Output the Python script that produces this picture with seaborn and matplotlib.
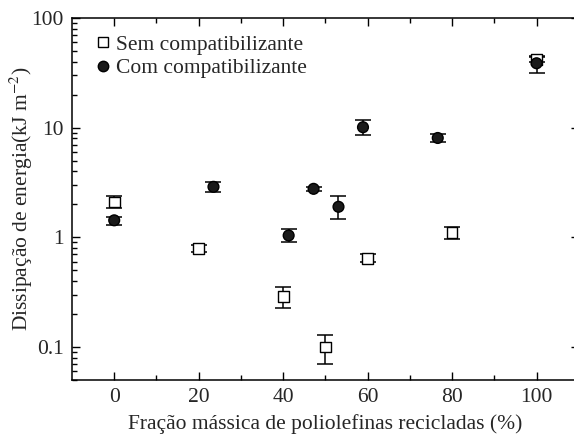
import pandas as pd
import numpy as np
import matplotlib
matplotlib.use("Agg")
import matplotlib.pyplot as plt
import seaborn as sns
from matplotlib.ticker import LogLocator, FixedLocator, NullFormatter

# Sem compatibilizante
x_sem = [0, 20, 40, 50, 60, 80, 100]
y_sem = [2.1, 0.79, 0.29, 0.10, 0.64, 1.10, 42]
lo_sem = [1.86, 0.73, 0.228, 0.07, 0.59, 0.96, 40]
hi_sem = [2.36, 0.86, 0.353, 0.13, 0.70, 1.24, 45]

# Com compatibilizante
x_com = [0, 23.5, 41.3, 47.2, 53.1, 58.9, 76.6, 100]
y_com = [1.43, 2.89, 1.04, 2.77, 1.90, 10.1, 8.06, 38.7]
lo_com = [1.30, 2.58, 0.906, 2.65, 1.46, 8.5, 7.35, 31.4]
hi_com = [1.53, 3.2, 1.18, 2.9, 2.37, 11.8, 8.8, 44.5]

sns.set_style("ticks")
plt.rcParams["font.family"] = ["Liberation Serif", "DejaVu Serif"]
plt.rcParams["mathtext.fontset"] = "stix"

df = pd.concat([
    pd.DataFrame({"x": x_sem, "y": y_sem, "grupo": "Sem compatibilizante"}),
    pd.DataFrame({"x": x_com, "y": y_com, "grupo": "Com compatibilizante"}),
])

fig = plt.figure(figsize=(5.74, 4.34), dpi=100)
ax = fig.add_axes([0.1254, 0.1244, 0.883, 0.834])

ax.errorbar(x_sem, y_sem,
            yerr=[np.array(y_sem) - np.array(lo_sem), np.array(hi_sem) - np.array(y_sem)],
            fmt="none", ecolor="black", elinewidth=1.1, capsize=6, capthick=1.1, zorder=2)
ax.errorbar(x_com, y_com,
            yerr=[np.array(y_com) - np.array(lo_com), np.array(hi_com) - np.array(y_com)],
            fmt="none", ecolor="black", elinewidth=1.1, capsize=6, capthick=1.1, zorder=2)

sns.scatterplot(data=df, x="x", y="y", hue="grupo", style="grupo",
                markers={"Sem compatibilizante": "s", "Com compatibilizante": "o"},
                palette={"Sem compatibilizante": "white", "Com compatibilizante": "#1a1a1a"},
                s=60, edgecolor="black", linewidth=1.0, ax=ax, zorder=3)

ax.set_yscale("log")
ax.set_xlim(-10, 110)
ax.set_ylim(0.05, 100)
ax.xaxis.set_major_locator(FixedLocator([0, 20, 40, 60, 80, 100]))
ax.xaxis.set_minor_locator(FixedLocator([10, 30, 50, 70, 90]))
ax.set_yticks([0.1, 1, 10, 100])
ax.set_yticklabels(["0.1", "1", "10", "100"])
ax.yaxis.set_minor_locator(LogLocator(base=10, subs=np.arange(2, 10), numticks=20))
ax.yaxis.set_minor_formatter(NullFormatter())

ax.tick_params(which="both", direction="in", top=True, right=True, labelsize=15.5,
               color="black", width=1.0)
ax.tick_params(which="major", length=6, pad=6)
ax.tick_params(which="minor", length=3.5)
for s in ax.spines.values():
    s.set_linewidth(1.1)
    s.set_color("black")
ax.spines["right"].set_visible(False)

ax.set_xlabel("Fração mássica de poliolefinas recicladas (%)", fontsize=15.5, labelpad=5)
ax.set_ylabel("Dissipação de energia(kJ m$^{-2}$)", fontsize=15.5, labelpad=-3)

handles, labels = ax.get_legend_handles_labels()
leg = ax.legend(handles=handles, labels=labels, loc="upper left", frameon=False,
                fontsize=15.5, handletextpad=0.0, borderaxespad=0.3, labelspacing=0.15,
                handlelength=1.2, bbox_to_anchor=(0.006, 0.995))
for h in leg.legend_handles:
    h.set_markeredgecolor("black")
    h.set_markeredgewidth(1.0)
    h.set_markersize(7.5)

fig.savefig("out.png", dpi=100)
